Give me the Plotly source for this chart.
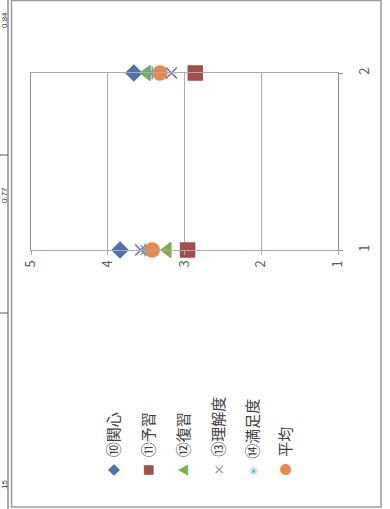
import plotly.graph_objects as go

categories = [1, 2]
series_names = ["⑩関心", "⑪予習", "⑫復習", "⑬理解度", "⑭満足度", "平均"]
v_kanshin = [3.84, 3.66]
v_yoshu = [2.96, 2.86]
v_fukushu = [3.22, 3.49]
v_rikai = [3.57, 3.17]
v_manzoku = [3.51, 3.42]
v_heikin = [3.42, 3.32]
value_ticks = [1, 2, 3, 4, 5]
side_labels = ["0.84", "0.77", "15"]

W, H = 390, 509
L, R, T, B = 31, 52, 73, 259

def px_x(p):
    return (p - L) / (W - L - R)

def px_y(p):
    return (H - B - p) / (H - T - B)

colors = ["#4E72AD", "#A34E4E", "#7DAE52", "#7E68A8", "#5BA9C4", "#E38A4E"]
symbols = ["diamond", "square", "triangle-left", "x-thin-open", "asterisk-open", "circle"]
sizes = [12, 14, 13, 11, 11, 14]
glyphs = ["◆", "■", "▲", "×", "✳", "●"]
values = [v_kanshin, v_yoshu, v_fukushu, v_rikai, v_manzoku, v_heikin]

fig = go.Figure()
for name, vals, c, s, sz in zip(series_names, values, colors, symbols, sizes):
    fig.add_trace(go.Scatter(
        x=vals, y=categories, mode="markers", name=name, cliponaxis=False,
        marker=dict(symbol=s, size=sz, color=c, line=dict(color=c, width=1.5)),
    ))

font = "Noto Sans CJK JP"
grid = "#ababab"

fig.update_layout(
    width=W, height=H, autosize=False,
    margin=dict(l=L, r=R, t=T, b=B),
    paper_bgcolor="white", plot_bgcolor="white",
    showlegend=False,
    font=dict(family=font, size=13, color="#595959"),
    xaxis=dict(range=[5, 1], tickvals=value_ticks, tickangle=-90,
               showgrid=True, gridcolor=grid, gridwidth=1,
               showline=True, mirror=True, linecolor=grid, linewidth=1,
               zeroline=False, ticks="outside", ticklen=4, tickcolor=grid),
    yaxis=dict(range=[1, 2], side="right", tickvals=categories,
               ticktext=[str(c) for c in categories], tickangle=-90,
               showgrid=False, zeroline=False,
               showline=True, mirror=True, linecolor="#8c8c8c", linewidth=1,
               ticks="outside", ticklen=4, tickcolor="#8c8c8c",
               ticklabelstandoff=10),
)

# rotated legend, read bottom to top
leg_x = [112, 147, 182, 217, 251, 284]
for name, c, g, xp in zip(series_names, colors, glyphs, leg_x):
    fig.add_annotation(
        text="<span style='color:%s;font-size:12px'>%s</span>  %s" % (c, g, name),
        x=px_x(xp), y=px_y(478), xref="paper", yref="paper",
        xanchor="center", yanchor="bottom", textangle=-90, showarrow=False,
        font=dict(family=font, size=15, color="#404040"),
    )

# chart frame and the edge of the table beside it
fig.add_shape(type="rect", xref="paper", yref="paper",
              x0=px_x(11.5), x1=px_x(381), y0=px_y(507), y1=px_y(0.5),
              line=dict(color="#9a9a9a", width=1.5))
fig.add_shape(type="line", xref="paper", yref="paper",
              x0=px_x(8), x1=px_x(8), y0=px_y(0), y1=px_y(509),
              line=dict(color="#555555", width=1))
for yy in [155, 313]:
    fig.add_shape(type="line", xref="paper", yref="paper",
                  x0=px_x(0), x1=px_x(8), y0=px_y(yy), y1=px_y(yy),
                  line=dict(color="#555555", width=1))
for t, yy in zip(side_labels, [20, 195, 485]):
    fig.add_annotation(text=t, x=px_x(4), y=px_y(yy), xref="paper", yref="paper",
                       xanchor="center", yanchor="middle",
                       textangle=-90, showarrow=False,
                       font=dict(family="Liberation Sans", size=8, color="#333333"))

fig.write_html("out.html", config={"displayModeBar": False},
               post_script="document.body.style.margin='0';"
                           "document.body.style.overflow='hidden';")
